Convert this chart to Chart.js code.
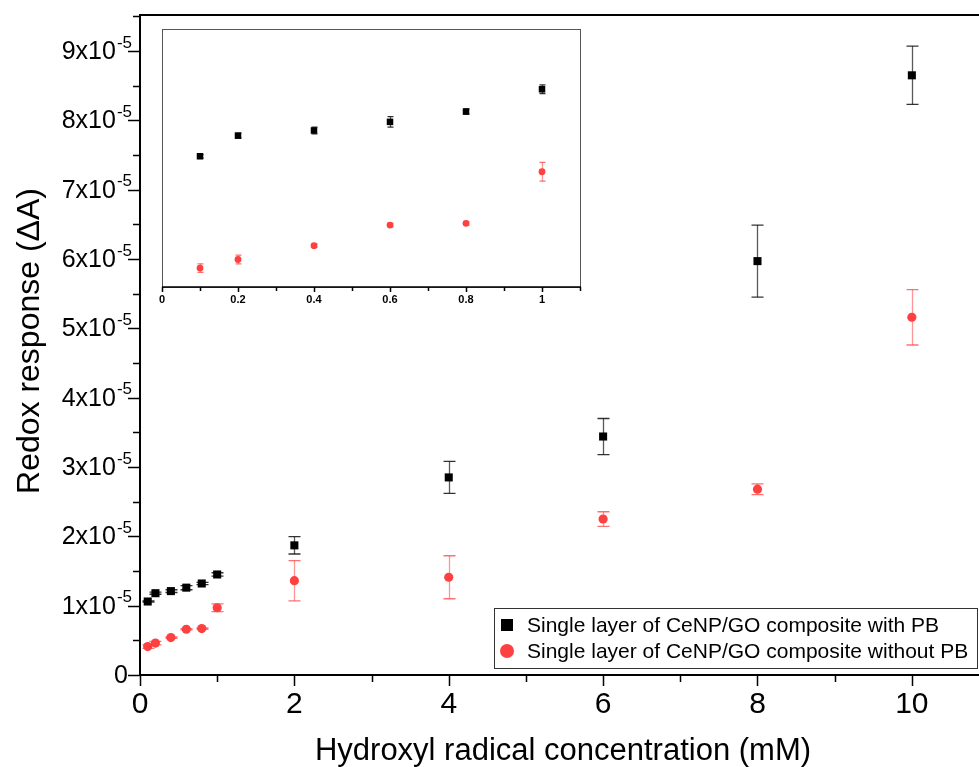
<!DOCTYPE html>
<html>
<head>
<meta charset="UTF-8">
<title>Redox response</title>
<script src="https://cdn.jsdelivr.net/npm/chart.js@4.4.1/dist/chart.umd.min.js"></script>
<style>
  body { margin: 0; background: #fff; }
  #wrap { position: relative; width: 979px; height: 767px; }
  #main { position: absolute; left: 0; top: 0; }
  #inset { position: absolute; left: 150px; top: 20px; }
</style>
</head>
<body>
<div id="wrap">
  <canvas id="main" width="979" height="767"></canvas>
  <canvas id="inset" width="440" height="300"></canvas>
</div>
<script>
// values in units of 1e-5 (axis labels show "x10^-5")
const concentrations = [0.1, 0.2, 0.4, 0.6, 0.8, 1, 2, 4, 6, 8, 10];
const withPB = [1.06, 1.18, 1.21, 1.26, 1.32, 1.45, 1.87, 2.85, 3.44, 5.97, 8.65];
const withPBErr = [0.01, 0.015, 0.02, 0.03, 0.015, 0.025, 0.125, 0.23, 0.26, 0.52, 0.42];
const withoutPB = [0.41, 0.46, 0.54, 0.66, 0.67, 0.97, 1.36, 1.41, 2.25, 2.68, 5.16];
const withoutPBErr = [0.025, 0.025, 0.01, 0.01, 0.01, 0.055, 0.29, 0.31, 0.105, 0.077, 0.40];
const seriesNames = ['Single layer of CeNP/GO composite with PB', 'Single layer of CeNP/GO composite without PB'];
const yTicks = [0, 1, 2, 3, 4, 5, 6, 7, 8, 9];
const xTicks = [0, 2, 4, 6, 8, 10];
const insetTicks = [0, 0.2, 0.4, 0.6, 0.8, 1];
const insetCount = 6;

const RED = 'rgb(255,64,64)';
const FONT = '"Liberation Sans", Arial, sans-serif';

function points(xs, ys) {
  return xs.map((x, i) => ({ x: x, y: ys[i] }));
}

const errBars = {
  id: 'errbars',
  beforeDatasetsDraw(chart, args, opts) {
    const ctx = chart.ctx, xs = chart.scales.x, ys = chart.scales.y;
    ctx.save();
    chart.data.datasets.forEach((ds, d) => {
      const errs = opts.errors[d];
      ds.data.forEach((p, i) => {
        const px = Math.round(xs.getPixelForValue(p.x)) + 0.5;
        const top = ys.getPixelForValue(p.y + errs[i]);
        const bot = ys.getPixelForValue(p.y - errs[i]);
        ctx.lineWidth = 1.3;
        ctx.strokeStyle = d === 0 ? 'rgba(0,0,0,0.65)' : 'rgba(255,64,64,0.55)';
        ctx.beginPath();
        ctx.moveTo(px, top); ctx.lineTo(px, bot);
        ctx.stroke();
        ctx.strokeStyle = d === 0 ? 'rgba(0,0,0,0.8)' : 'rgba(255,64,64,0.75)';
        ctx.beginPath();
        ctx.moveTo(px - opts.cap, top); ctx.lineTo(px + opts.cap, top);
        ctx.moveTo(px - opts.cap, bot); ctx.lineTo(px + opts.cap, bot);
        ctx.stroke();
      });
    });
    ctx.restore();
  }
};

const mainFrame = {
  id: 'mainFrame',
  afterDraw(chart) {
    const ctx = chart.ctx, ca = chart.chartArea;
    const xs = chart.scales.x, ys = chart.scales.y;
    ctx.save();
    ctx.strokeStyle = '#000';
    ctx.fillStyle = '#000';
    ctx.lineWidth = 2;
    ctx.beginPath();
    ctx.moveTo(ca.left, ca.top); ctx.lineTo(ca.left, ca.bottom + 1);
    ctx.moveTo(ca.left - 1, ca.bottom); ctx.lineTo(chart.width, ca.bottom);
    ctx.moveTo(ca.left - 1, ca.top); ctx.lineTo(chart.width, ca.top);
    ctx.stroke();

    // ticks (major + minor), pointing out
    ctx.lineWidth = 1.5;
    ctx.beginPath();
    for (let v = 0; v <= 9.5; v += 0.5) {
      const py = Math.round(ys.getPixelForValue(v)) + 0.5;
      const len = Number.isInteger(v) ? 12 : 7;
      ctx.moveTo(ca.left, py); ctx.lineTo(ca.left - len, py);
    }
    for (let v = 0; v <= 10; v += 1) {
      const px = Math.round(xs.getPixelForValue(v)) + 0.5;
      const len = v % 2 === 0 ? 11 : 7;
      ctx.moveTo(px, ca.bottom); ctx.lineTo(px, ca.bottom + len);
    }
    ctx.stroke();

    // y tick labels with superscript exponent
    ctx.textBaseline = 'middle';
    ctx.textAlign = 'left';
    yTicks.forEach(v => {
      const py = ys.getPixelForValue(v);
      if (v === 0) {
        ctx.font = '25px ' + FONT;
        ctx.textAlign = 'right';
        ctx.fillText('0', 128, py + 1);
        ctx.textAlign = 'left';
        return;
      }
      const base = v + 'x10', sup = '-5';
      ctx.font = '17px ' + FONT;
      const sw = ctx.measureText(sup).width;
      ctx.font = '25px ' + FONT;
      const bw = ctx.measureText(base).width;
      const right = 132;
      ctx.fillText(base, right - sw - bw - 1, py + 1);
      ctx.font = '17px ' + FONT;
      ctx.fillText(sup, right - sw, py - 8);
    });

    // x tick labels
    ctx.font = '30px ' + FONT;
    ctx.textAlign = 'center';
    ctx.textBaseline = 'alphabetic';
    xTicks.forEach(v => {
      ctx.fillText(String(v), xs.getPixelForValue(v), 713);
    });

    // axis titles
    ctx.font = '31px ' + FONT;
    ctx.fillText('Hydroxyl radical concentration (mM)', 563, 760);
    ctx.save();
    ctx.translate(30, 341);
    ctx.rotate(-Math.PI / 2);
    ctx.font = '32px ' + FONT;
    ctx.textBaseline = 'middle';
    ctx.fillText('Redox response (\u0394A)', 0, 0);
    ctx.restore();

    // legend
    ctx.fillStyle = '#fff';
    ctx.fillRect(494, 608, 484, 61);
    ctx.strokeStyle = '#333';
    ctx.lineWidth = 1;
    ctx.strokeRect(494.5, 608.5, 483, 60);
    ctx.fillStyle = '#000';
    ctx.fillRect(501, 619, 12, 12);
    ctx.fillStyle = RED;
    ctx.beginPath();
    ctx.arc(507, 651, 7, 0, Math.PI * 2);
    ctx.fill();
    ctx.fillStyle = '#000';
    ctx.font = '21px ' + FONT;
    ctx.textAlign = 'left';
    ctx.textBaseline = 'middle';
    ctx.fillText(seriesNames[0], 527, 626);
    ctx.fillText(seriesNames[1], 527, 652);
    ctx.restore();
  }
};

new Chart(document.getElementById('main'), {
  type: 'scatter',
  data: {
    datasets: [
      { label: seriesNames[0], data: points(concentrations, withPB), pointStyle: 'rect',
        pointRadius: 5.7, backgroundColor: '#000', borderWidth: 0 },
      { label: seriesNames[1], data: points(concentrations, withoutPB), pointStyle: 'circle',
        pointRadius: 4.6, backgroundColor: RED, borderWidth: 0 }
    ]
  },
  options: {
    responsive: false,
    animation: false,
    events: [],
    layout: { autoPadding: false, padding: { top: 15, right: 0, left: 0, bottom: 0 } },
    plugins: {
      legend: { display: false },
      tooltip: { enabled: false },
      errbars: { errors: [withPBErr, withoutPBErr], cap: 6 }
    },
    scales: {
      x: { type: 'linear', min: 0, max: 10.87,
           ticks: { display: false }, grid: { display: false }, border: { display: false },
           afterFit(s) { s.height = 92; } },
      y: { type: 'linear', min: 0, max: 9.52,
           ticks: { display: false }, grid: { display: false }, border: { display: false },
           afterFit(s) { s.width = 140; } }
    }
  },
  plugins: [errBars, mainFrame]
});

const insetFrame = {
  id: 'insetFrame',
  beforeDraw(chart) {
    const ctx = chart.ctx, ca = chart.chartArea;
    ctx.save();
    ctx.fillStyle = '#fff';
    ctx.fillRect(ca.left, ca.top, ca.right - ca.left, ca.bottom - ca.top + 24);
    ctx.restore();
  },
  afterDraw(chart) {
    const ctx = chart.ctx, ca = chart.chartArea, xs = chart.scales.x;
    ctx.save();
    ctx.strokeStyle = '#555';
    ctx.lineWidth = 1;
    ctx.strokeRect(ca.left + 0.5, ca.top + 0.5, ca.right - ca.left, ca.bottom - ca.top);
    ctx.strokeStyle = '#000';
    ctx.lineWidth = 1.5;
    ctx.beginPath();
    ctx.moveTo(ca.left, ca.bottom); ctx.lineTo(ca.right + 1, ca.bottom);
    for (let k = 0; k <= 11; k++) {
      const px = Math.round(xs.getPixelForValue(k / 10)) + 0.5;
      ctx.moveTo(px, ca.bottom); ctx.lineTo(px, ca.bottom + (k % 2 === 0 ? 5 : 4));
    }
    ctx.stroke();
    ctx.fillStyle = '#000';
    ctx.font = 'bold 11px ' + FONT;
    ctx.textAlign = 'center';
    ctx.textBaseline = 'middle';
    insetTicks.forEach(v => {
      ctx.fillText(String(v), xs.getPixelForValue(v), ca.bottom + 13);
    });
    ctx.restore();
  }
};

new Chart(document.getElementById('inset'), {
  type: 'scatter',
  data: {
    datasets: [
      { label: seriesNames[0], data: points(concentrations.slice(0, insetCount), withPB.slice(0, insetCount)),
        pointStyle: 'rect', pointRadius: 4.6, backgroundColor: '#000', borderWidth: 0 },
      { label: seriesNames[1], data: points(concentrations.slice(0, insetCount), withoutPB.slice(0, insetCount)),
        pointStyle: 'circle', pointRadius: 3.4, backgroundColor: RED, borderWidth: 0 }
    ]
  },
  options: {
    responsive: false,
    animation: false,
    events: [],
    layout: { autoPadding: false, padding: { top: 9, right: 10, left: 12, bottom: 0 } },
    plugins: {
      legend: { display: false },
      tooltip: { enabled: false },
      errbars: { errors: [withPBErr.slice(0, insetCount), withoutPBErr.slice(0, insetCount)], cap: 3 }
    },
    scales: {
      x: { type: 'linear', min: 0, max: 1.1,
           ticks: { display: false }, grid: { display: false }, border: { display: false },
           afterFit(s) { s.height = 33; } },
      y: { type: 'linear', display: false, min: 0.3, max: 1.8 }
    }
  },
  plugins: [errBars, insetFrame]
});
</script>
</body>
</html>
